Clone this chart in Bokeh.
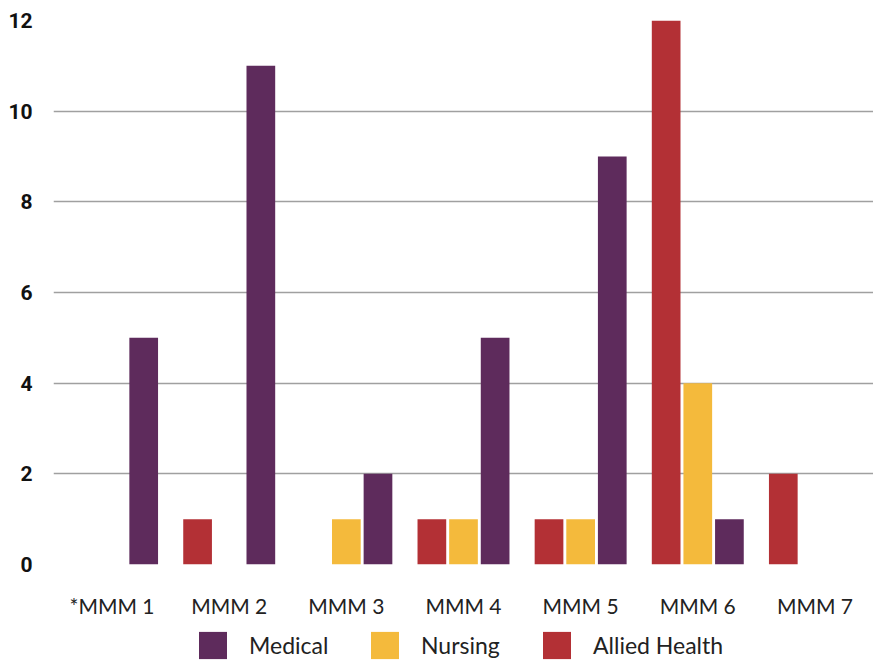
from bokeh.plotting import figure
from bokeh.models import ColumnDataSource, FactorRange, Legend, LegendItem, FixedTicker
from bokeh.layouts import column
from bokeh.transform import dodge
from bokeh.embed import file_html
from bokeh.resources import INLINE

categories = ["*MMM 1", "MMM 2", "MMM 3", "MMM 4", "MMM 5", "MMM 6", "MMM 7"]
medical = [5, 11, 2, 5, 9, 1, 0]
nursing = [0, 0, 1, 1, 1, 4, 0]
allied = [0, 1, 0, 1, 1, 12, 2]
y_ticks = [0, 2, 4, 6, 8, 10, 12]
series_names = ["Medical", "Nursing", "Allied Health"]
series_colors = ["#5E2B5C", "#F4BA3C", "#B33035"]

source = ColumnDataSource(dict(cat=categories, medical=medical, nursing=nursing, allied=allied))

p = figure(x_range=FactorRange(*categories), y_range=(0, 12),
           width=873, height=620, output_backend="svg", toolbar_location=None,
           min_border_left=53, min_border_top=20, min_border_right=0, min_border_bottom=53)
p.outline_line_color = None

W = 0.245
p.vbar(x=dodge("cat", -0.27, range=p.x_range), top="allied", width=W, source=source,
       fill_color=series_colors[2], line_color=None)
p.vbar(x=dodge("cat", 0.0, range=p.x_range), top="nursing", width=W, source=source,
       fill_color=series_colors[1], line_color=None)
p.vbar(x=dodge("cat", 0.27, range=p.x_range), top="medical", width=W, source=source,
       fill_color=series_colors[0], line_color=None)

p.xgrid.grid_line_color = None
p.ygrid.grid_line_color = "#A0A0A0"
p.ygrid.grid_line_width = 1.5
p.ygrid.level = "underlay"

p.yaxis.ticker = FixedTicker(ticks=y_ticks)
p.yaxis.axis_line_color = None
p.yaxis.major_tick_line_color = None
p.yaxis.minor_tick_line_color = None
p.yaxis.major_label_text_font = "Roboto"
p.yaxis.major_label_text_font_style = "bold"
p.yaxis.major_label_text_font_size = "21px"
p.yaxis.major_label_text_color = "#111111"
p.yaxis.major_label_standoff = 15

p.xaxis.axis_line_color = None
p.xaxis.major_tick_line_color = None
p.xaxis.minor_tick_line_color = None
p.xaxis.major_label_text_font = "Lato"
p.xaxis.major_label_text_font_size = "21px"
p.xaxis.major_label_text_color = "#222222"
p.xaxis.major_label_standoff = 22

# legend strip (dummy zero-size bars only provide the legend swatches)
lg = figure(width=873, height=42, x_range=(0, 1), y_range=(0, 1), output_backend="svg",
            toolbar_location=None, min_border=0)
lg.axis.visible = False
lg.grid.grid_line_color = None
lg.outline_line_color = None
items = []
for name, col in zip(series_names, series_colors):
    r = lg.vbar(x=[0], top=[0], width=0, fill_color=col, line_color=None)
    items.append(LegendItem(label=name, renderers=[r]))
legend = Legend(items=items, orientation="horizontal", location=(142, 0),
                glyph_width=35, glyph_height=34, spacing=32, label_standoff=19, label_width=86,
                label_text_font="Lato", label_text_font_size="23px", label_text_color="#222222",
                border_line_color=None, background_fill_alpha=0, margin=0, padding=0)
lg.add_layout(legend)

layout = column(p, lg, spacing=0)
open("out.html", "w").write(file_html(layout, INLINE))
